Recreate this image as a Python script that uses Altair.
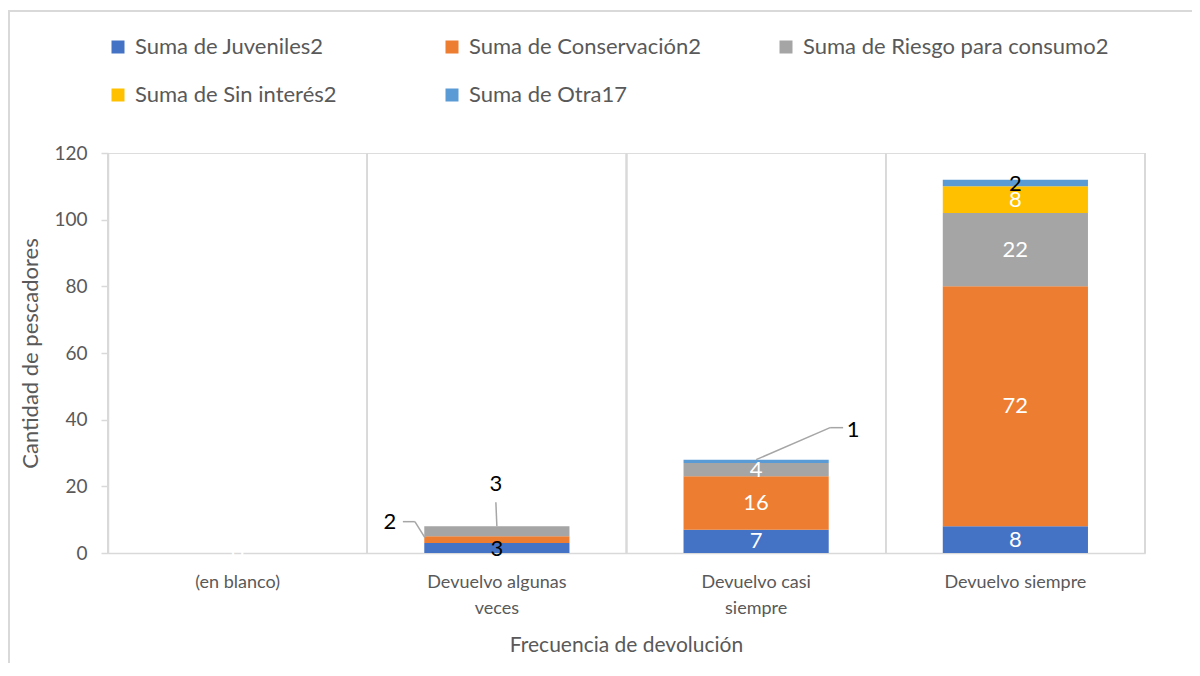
import altair as alt
import pandas as pd

categories = ["(en blanco)", "Devuelvo algunas veces", "Devuelvo casi siempre", "Devuelvo siempre"]
series = ["Suma de Juveniles2", "Suma de Conservación2", "Suma de Riesgo para consumo2",
          "Suma de Sin interés2", "Suma de Otra17"]
colors = ["#4472C4", "#ED7D31", "#A5A5A5", "#FFC000", "#5B9BD5"]

juveniles = [0, 3, 7, 8]
conservacion = [0, 2, 16, 72]
riesgo = [0, 3, 4, 22]
sin_interes = [0, 0, 0, 8]
otra = [0, 0, 1, 2]

y_ticks = [0, 20, 40, 60, 80, 100, 120]

all_values = [juveniles, conservacion, riesgo, sin_interes, otra]
rows = []
for si, (s, vals) in enumerate(zip(series, all_values)):
    for c, v in zip(categories, vals):
        rows.append({"category": c, "series": s, "value": v, "order": si})
df = pd.DataFrame(rows)

black_inside = ["Devuelvo algunas veces|Suma de Juveniles2", "Devuelvo siempre|Suma de Otra17"]
zero_label = ["(en blanco)|Suma de Juveniles2"]
callout_a = "Devuelvo algunas veces|Suma de Conservación2"
callout_b = "Devuelvo algunas veces|Suma de Riesgo para consumo2"
callout_c = "Devuelvo casi siempre|Suma de Otra17"
callouts = [callout_a, callout_b, callout_c]

FONT = "Lato"
GRAY_TXT = "#595959"
LINE = "#D9D9D9"

x_enc = alt.X("category:N", sort=categories, scale=alt.Scale(paddingInner=0, paddingOuter=0),
              axis=alt.Axis(title="Frecuencia de devolución", labelAngle=0, ticks=False, tickSize=0,
                            domainColor=LINE, domainWidth=1.5, grid=False,
                            labelFont=FONT, labelFontSize=18, labelColor=GRAY_TXT,
                            labelAlign="center", labelPadding=20, labelLineHeight=26, labelBaseline="top",
                            labelExpr="datum.label == 'Devuelvo algunas veces' ? ['Devuelvo algunas', 'veces'] : datum.label == 'Devuelvo casi siempre' ? ['Devuelvo casi', 'siempre'] : datum.label",
                            titleFont=FONT, titleFontSize=21, titleColor=GRAY_TXT, titleFontWeight="normal",
                            titleX=518, titleY=92, titleBaseline="middle", titleAlign="center"))

y_scale = alt.Scale(domain=[0, 120], nice=False)

base = alt.Chart(df)

grid = base.mark_rule(color=LINE, strokeWidth=1.5).encode(
    x=alt.X("category:N", sort=categories, bandPosition=0),
    y=alt.value(0), y2=alt.value(400))

right_edge = base.mark_rule(color=LINE, strokeWidth=1.5).encode(
    x=alt.value(1037), y=alt.value(0), y2=alt.value(400))

border_left = base.mark_rule(color=LINE, strokeWidth=2).encode(
    x=alt.value(-99), y=alt.value(-142), y2=alt.value(520))
border_top = base.mark_rule(color=LINE, strokeWidth=2).encode(
    x=alt.value(-100), x2=alt.value(1100), y=alt.value(-142))

bars = base.mark_bar(width=alt.RelativeBandSize(0.56)).encode(
    x=x_enc,
    y=alt.Y("sum(value):Q", stack="zero", scale=y_scale,
            axis=alt.Axis(title="Cantidad de pescadores", values=y_ticks, grid=False,
                          domainColor=LINE, domainWidth=1.5, tickColor=LINE, tickSize=7, tickWidth=1.5,
                          labelFont=FONT, labelFontSize=19, labelColor=GRAY_TXT, labelPadding=14,
                          titleFont=FONT, titleFontSize=22, titleColor=GRAY_TXT, titleFontWeight="normal",
                          titleX=-78, titleY=200, titleAngle=-90, titleAlign="center", titleBaseline="middle")),
    color=alt.Color("series:N", sort=series, scale=alt.Scale(domain=series, range=colors),
                    legend=alt.Legend(orient="none", legendX=-1, legendY=-117, direction="horizontal",
                                      columns=3, title=None, symbolType="square", symbolSize=169,
                                      symbolStrokeWidth=0, labelFont=FONT, labelFontSize=22,
                                      labelColor=GRAY_TXT, labelLimit=500, labelOffset=6,
                                      columnPadding=-1, rowPadding=26, gridAlign="all", padding=0,
                                      symbolOffset=0)),
    order=alt.Order("order:Q", sort="ascending"),
)

stacked = base.transform_calculate(
    key="datum.category + '|' + datum.series"
).transform_stack(
    stack="value", groupby=["category"], as_=["v0", "v1"], sort=[alt.SortField("order", order="ascending")]
).transform_calculate(mid="(datum.v0 + datum.v1) / 2")

xc = alt.X("category:N", sort=categories)

white_labels = stacked.transform_filter(
    "(datum.value > 0 || indexof(%s, datum.key) >= 0) && indexof(%s, datum.key) < 0 && indexof(%s, datum.key) < 0"
    % (zero_label, black_inside, callouts)
).mark_text(font=FONT, fontSize=22, color="white", align="center", baseline="middle").encode(
    x=xc, y=alt.Y("mid:Q", scale=y_scale), text=alt.Text("value:Q"))

black_labels = stacked.transform_filter(
    alt.FieldOneOfPredicate(field="key", oneOf=black_inside)
).mark_text(font=FONT, fontSize=22, color="black", align="center", baseline="middle", dy=1).encode(
    x=xc, y=alt.Y("mid:Q", scale=y_scale), text=alt.Text("value:Q"))

LEAD = "#A6A6A6"

def rule(key, yfield, xo, x2o, yo, y2o):
    return stacked.transform_filter(alt.datum.key == key).mark_rule(
        color=LEAD, strokeWidth=1.5, xOffset=xo, x2Offset=x2o, yOffset=yo, y2Offset=y2o
    ).encode(x=alt.X("category:N", sort=categories, bandPosition=0.5),
             x2=alt.X2("category"),
             y=alt.Y(yfield + ":Q", scale=y_scale), y2=alt.Y2(yfield))

def callout_text(key, yfield, dx, dy):
    return stacked.transform_filter(alt.datum.key == key).mark_text(
        font=FONT, fontSize=22, color="black", align="center", baseline="middle", dx=dx, dy=dy
    ).encode(x=xc, y=alt.Y(yfield + ":Q", scale=y_scale), text=alt.Text("value:Q"))

leaders = [
    rule(callout_a, "mid", -72, -82, -2, -18),
    rule(callout_a, "mid", -82, -94, -18, -18),
    rule(callout_b, "v1", 0, -1, 0, -24),
    rule(callout_c, "v1", 0, 74, 0, -32),
    rule(callout_c, "v1", 74, 87, -32, -32),
]
ctexts = [
    callout_text(callout_a, "mid", -107, -18),
    callout_text(callout_b, "v1", -1, -42),
    callout_text(callout_c, "v1", 97, -30),
]

chart = alt.layer(border_left, border_top, grid, right_edge, bars, white_labels, black_labels,
                  *leaders, *ctexts).properties(
    width=1037, height=400,
    autosize=alt.AutoSizeParams(type="none"),
    padding={"left": 100, "top": 145, "right": 47, "bottom": 110},
).configure_view(stroke=None).configure(background="white")

chart.save("out.html", embed_options={"renderer": "svg", "actions": False})
